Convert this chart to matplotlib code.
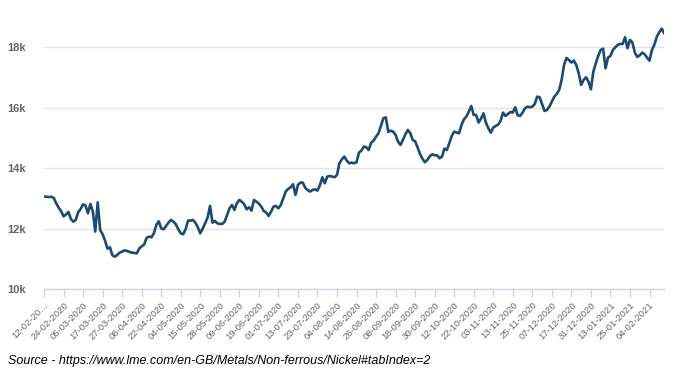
import matplotlib
matplotlib.use("Agg")
import matplotlib.pyplot as plt
import numpy as np

# nickel cash price, one value per LME trading day (USD/t)
prices = [
    13064, 13060, 13050, 13060, 13020, 12843, 12700, 12580, 12413, 12470,
    12557, 12325, 12237, 12292, 12546, 12656, 12810, 12766, 12513, 12821,
    12568, 11906, 12876, 11962, 11818, 11609, 11344, 11389, 11124, 11080,
    11135, 11212, 11245, 11289, 11267, 11234, 11212, 11201, 11190, 11344,
    11422, 11477, 11697, 11741, 11719, 11851, 12127, 12248, 12017, 11984,
    12094, 12204, 12292, 12237, 12149, 11984, 11851, 11818, 11984, 12270,
    12270, 12292, 12204, 12050, 11851, 12006, 12182, 12369, 12755, 12204,
    12259, 12182, 12160, 12160, 12237, 12457, 12678, 12788, 12623, 12843,
    12953, 12898, 12810, 12645, 12711, 12601, 12953, 12898, 12832, 12733,
    12590, 12535, 12424, 12568, 12733, 12755, 12678, 12788, 13008, 13229,
    13317, 13372, 13471, 13119, 13449, 13526, 13526, 13350, 13284, 13229,
    13284, 13306, 13262, 13438, 13703, 13504, 13725, 13747, 13725, 13703,
    13780, 14166, 14298, 14386, 14254, 14166, 14188, 14166, 14199, 14518,
    14584, 14717, 14695, 14606, 14849, 14915, 15047, 15157, 15400, 15653,
    15686, 15201, 15245, 15212, 15102, 14882, 14772, 14937, 15124, 15268,
    15168, 14937, 14893, 14695, 14474, 14320, 14199, 14276, 14397, 14463,
    14430, 14430, 14331, 14386, 14650, 14606, 14827, 15069, 15212, 15179,
    15157, 15433, 15620, 15708, 15873, 16061, 15763, 15763, 15510, 15642,
    15818, 15510, 15323, 15179, 15344, 15400, 15444, 15565, 15841, 15730,
    15796, 15862, 15841, 16017, 15752, 15730, 15841, 15984, 16039, 16017,
    16039, 16127, 16370, 16348, 16127, 15896, 15929, 16039, 16204, 16370,
    16458, 16590, 16921, 17416, 17648, 17582, 17494, 17560, 17416, 17141,
    16755, 16921, 17009, 16865, 16612, 17196, 17472, 17714, 17912, 17956,
    17306, 17659, 17714, 17912, 18000, 18078, 18111, 18111, 18331, 17967,
    18243, 18155, 17824, 17681, 17736, 17824, 17769, 17659, 17560, 17912,
    18089, 18353, 18497, 18618, 18464,
]

tick_dates = [
    "12-02-20\u2026", "24-02-2020", "05-03-2020", "17-03-2020", "27-03-2020",
    "08-04-2020", "22-04-2020", "04-05-2020", "15-05-2020", "28-05-2020",
    "09-06-2020", "19-06-2020", "01-07-2020", "13-07-2020", "23-07-2020",
    "04-08-2020", "14-08-2020", "26-08-2020", "08-09-2020", "18-09-2020",
    "30-09-2020", "12-10-2020", "22-10-2020", "03-11-2020", "13-11-2020",
    "25-11-2020", "07-12-2020", "17-12-2020", "31-12-2020", "13-01-2021",
    "25-01-2021", "04-02-2021",
]
tick_every = 8
y_ticks = [10000, 12000, 14000, 16000, 18000]
y_labels = ["10k", "12k", "14k", "16k", "18k"]

fig = plt.figure(figsize=(6.8, 3.78), dpi=100)
ax = fig.add_axes([0.0647, 0.2347, 0.912, 0.7202])

x = np.arange(len(prices))
ax.plot(x, prices, color="#1d4a72", lw=1.9, solid_joinstyle="round")

ax.set_xlim(0, len(prices) - 1)
ax.set_ylim(10000, 19000)

ax.set_yticks(y_ticks)
ax.set_yticklabels(y_labels)
ax.grid(axis="y", color="#e3e3e3", lw=1)
ax.set_axisbelow(True)

ax.set_xticks(np.arange(len(tick_dates)) * tick_every)
ax.set_xticklabels(tick_dates, rotation=45, ha="right", rotation_mode="anchor",
                   fontsize=6.8, color="#666666", family="Liberation Sans")

for s in ["top", "right", "left"]:
    ax.spines[s].set_visible(False)
ax.spines["bottom"].set_color("#ccd6eb")
ax.spines["bottom"].set_linewidth(1)

ax.tick_params(axis="x", length=6, width=1, color="#ccd6eb", pad=2)
ax.tick_params(axis="y", length=0, pad=13, labelsize=8, labelcolor="#666666")
for lab in ax.get_yticklabels():
    lab.set_fontweight("bold")
    lab.set_family("Liberation Sans")

fig.text(0.012, 0.045, "Source - https://www.lme.com/en-GB/Metals/Non-ferrous/Nickel#tabIndex=2",
         fontsize=9, style="italic", family="Liberation Sans", color="black", va="center")

fig.savefig("out.png", dpi=100, facecolor="white")
